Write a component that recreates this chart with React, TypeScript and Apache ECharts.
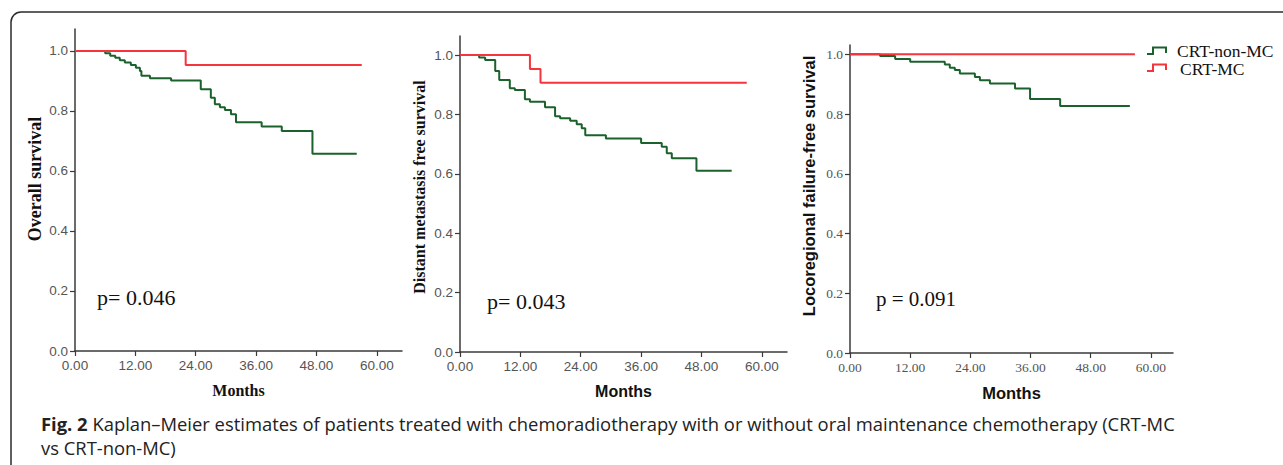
import React, { useEffect, useRef } from 'react';
import * as echarts from 'echarts';

const X_TICKS = [0, 12, 24, 36, 48, 60];
const Y_TICKS = [0, 0.2, 0.4, 0.6, 0.8, 1.0];

const SERIES_NAMES = ['CRT-non-MC', 'CRT-MC'];

// Overall survival
const OS_NON_MC = [
  [0, 1], [6.0, 0.992], [7.0, 0.984], [8.0, 0.977], [8.9, 0.969], [9.9, 0.961], [11.1, 0.953],
  [12.1, 0.944], [12.9, 0.933], [13.2, 0.917], [14.9, 0.909], [19.1, 0.901], [25.0, 0.872],
  [27.0, 0.844], [27.8, 0.822], [28.8, 0.812], [29.8, 0.803], [31.0, 0.789], [32.0, 0.762],
  [37.1, 0.748], [41.1, 0.733], [47.2, 0.657], [56.0, 0.657],
];
const OS_MC = [[0, 1], [22.0, 0.953], [57.0, 0.953]];

// Distant metastasis free survival
const DMFS_NON_MC = [
  [0, 1], [3.8, 0.992], [5.0, 0.983], [7.0, 0.946], [7.8, 0.916], [9.9, 0.888], [10.9, 0.882],
  [12.9, 0.851], [13.9, 0.843], [16.9, 0.824], [18.9, 0.794], [19.9, 0.787], [21.9, 0.779],
  [23.2, 0.767], [24.2, 0.753], [24.9, 0.73], [29.0, 0.719], [36.0, 0.704], [40.1, 0.691],
  [41.1, 0.669], [42.1, 0.652], [47.0, 0.61], [54.0, 0.61],
];
const DMFS_MC = [[0, 1], [13.9, 0.953], [16.0, 0.907], [57.0, 0.907]];

// Locoregional failure-free survival
const LRFFS_NON_MC = [
  [0, 1], [6.0, 0.994], [9.0, 0.984], [12.0, 0.975], [18.9, 0.966], [19.9, 0.955], [20.9, 0.947],
  [21.9, 0.936], [24.9, 0.924], [25.9, 0.913], [27.9, 0.902], [32.9, 0.885], [35.9, 0.85],
  [41.9, 0.827], [55.8, 0.827],
];
const LRFFS_MC = [[0, 1], [56.8, 1]];

const P_VALUES = ['p= 0.046', 'p= 0.043', 'p = 0.091'];
const Y_TITLES = ['Overall survival', 'Distant metastasis free survival', 'Locoregional failure-free survival'];
const X_TITLE = 'Months';
const CAPTION_BOLD = 'Fig. 2';
const CAPTION_LINE1 = ' Kaplan–Meier estimates of patients treated with chemoradiotherapy with or without oral maintenance chemotherapy (CRT-MC';
const CAPTION_LINE2 = 'vs CRT-non-MC)';

const GREEN = '#1b612c';
const RED = '#f7333b';
const SERIF = '"Liberation Serif", "Times New Roman", serif';
const SANS = '"Liberation Sans", Arial, sans-serif';

export default function App() {
  const ref = useRef<HTMLDivElement>(null);
  useEffect(() => {
    document.body.style.margin = '0';
    if (!ref.current) return;
    const chart = echarts.init(ref.current, null, { renderer: 'svg' });

    const grids = [
      { left: 75, top: 29, width: 327, height: 322, xMax: 65, yMax: 1.073 },
      { left: 460, top: 36, width: 327, height: 316, xMax: 65, yMax: 1.064 },
      { left: 850, top: 45, width: 323, height: 308, xMax: 64.4, yMax: 1.031 },
    ];
    const tickFonts = [SANS, SANS, SERIF];
    const yTitleFonts = [
      { fontFamily: SERIF, fontSize: 18, gap: 31, shift: 22 },
      { fontFamily: SERIF, fontSize: 16, gap: 33, shift: 14 },
      { fontFamily: SANS, fontSize: 16.5, gap: 33, shift: 26 },
    ];
    const xTitleFonts = [
      { fontFamily: SERIF, fontSize: 16 },
      { fontFamily: SANS, fontSize: 16 },
      { fontFamily: SANS, fontSize: 16.5 },
    ];
    const axisLine = { show: true, lineStyle: { color: '#3a3a3a', width: 1.5 } };

    const xAxis = grids.map((g, i) => ({
      type: 'value',
      gridIndex: i,
      min: 0,
      max: g.xMax,
      axisLine,
      axisTick: { show: true, length: 5, customValues: X_TICKS, lineStyle: { color: '#3a3a3a', width: 1.2 } },
      axisLabel: {
        customValues: X_TICKS,
        formatter: (v: number) => v.toFixed(2),
        color: '#555',
        fontFamily: tickFonts[i],
        fontSize: 13.5,
        margin: 7,
      },
      splitLine: { show: false },
      name: X_TITLE,
      nameLocation: 'middle',
      nameGap: 31,
      nameTextStyle: { color: '#111', fontWeight: 'bold', ...xTitleFonts[i] },
    }));

    const yAxis = grids.map((g, i) => ({
      type: 'value',
      gridIndex: i,
      min: 0,
      max: g.yMax,
      axisLine,
      axisTick: { show: true, length: 5, customValues: Y_TICKS, lineStyle: { color: '#3a3a3a', width: 1.2 } },
      axisLabel: {
        customValues: Y_TICKS,
        formatter: (v: number) => v.toFixed(1),
        color: '#555',
        fontFamily: tickFonts[i],
        fontSize: 13.5,
        margin: 7,
      },
      splitLine: { show: false },
      name: Y_TITLES[i],
      nameLocation: 'middle',
      nameGap: yTitleFonts[i].gap,
      nameTextStyle: {
        color: '#111',
        fontWeight: 'bold',
        fontFamily: yTitleFonts[i].fontFamily,
        fontSize: yTitleFonts[i].fontSize,
        padding: [0, 0, 0, yTitleFonts[i].shift],
      },
    }));

    const pairs = [
      [OS_NON_MC, OS_MC],
      [DMFS_NON_MC, DMFS_MC],
      [LRFFS_NON_MC, LRFFS_MC],
    ];
    const series: any[] = [];
    pairs.forEach((pair, i) => {
      pair.forEach((data, j) => {
        series.push({
          type: 'line',
          name: SERIES_NAMES[j],
          xAxisIndex: i,
          yAxisIndex: i,
          step: 'end',
          data,
          symbol: 'none',
          showSymbol: false,
          lineStyle: { color: j === 0 ? GREEN : RED, width: 2 },
          itemStyle: { color: j === 0 ? GREEN : RED },
          z: j === 0 ? 2 : 3,
        });
      });
    });

    const pPos = [
      [97, 297],
      [487, 301],
      [876, 299],
    ];
    const pSizes = [22, 22, 21];

    const graphic: any[] = [
      {
        type: 'rect',
        silent: true,
        shape: { x: 11, y: 12, width: 1320, height: 520, r: 10 },
        style: { fill: 'none', stroke: '#2b2b2b', lineWidth: 1.5 },
      },
      ...P_VALUES.map((t, i) => ({
        type: 'text',
        x: pPos[i][0],
        y: pPos[i][1],
        style: {
          text: t,
          fill: '#111',
          font: `${pSizes[i]}px ${SERIF}`,
          verticalAlign: 'middle',
          align: 'left',
        },
      })),
      {
        type: 'polyline',
        shape: { points: [[1147, 54], [1153, 54], [1153, 47.5], [1166, 47.5], [1166, 53]] },
        style: { stroke: GREEN, lineWidth: 2, fill: 'none' },
      },
      {
        type: 'polyline',
        shape: { points: [[1147, 71], [1153, 71], [1153, 64.5], [1166, 64.5], [1166, 70]] },
        style: { stroke: RED, lineWidth: 2, fill: 'none' },
      },
      {
        type: 'text',
        x: 1177,
        y: 50.5,
        style: { text: SERIES_NAMES[0], fill: '#111', font: `17.5px ${SERIF}`, verticalAlign: 'middle' },
      },
      {
        type: 'text',
        x: 1180,
        y: 68.5,
        style: { text: SERIES_NAMES[1], fill: '#111', font: `17.5px ${SERIF}`, verticalAlign: 'middle' },
      },
      {
        type: 'text',
        x: 41,
        y: 423,
        style: {
          text: `{b|${CAPTION_BOLD}}${CAPTION_LINE1}`,
          fill: '#222',
          font: `18.4px "Open Sans", sans-serif`,
          verticalAlign: 'middle',
          rich: {
            b: { fontWeight: 'bold', fontFamily: '"Open Sans", sans-serif', fontSize: 18.4, fill: '#222' },
          },
        },
      },
      {
        type: 'text',
        x: 41,
        y: 447,
        style: {
          text: CAPTION_LINE2,
          fill: '#222',
          font: `18.4px "Open Sans", sans-serif`,
          verticalAlign: 'middle',
        },
      },
    ];

    chart.setOption({
      animation: false,
      backgroundColor: '#fff',
      grid: grids.map((g) => ({
        left: g.left,
        top: g.top,
        width: g.width,
        height: g.height,
        containLabel: false,
        outerBoundsMode: 'none',
      })),
      xAxis,
      yAxis,
      series,
      graphic,
    });

    return () => chart.dispose();
  }, []);

  return <div ref={ref} style={{ width: 1283, height: 465 }} />;
}
